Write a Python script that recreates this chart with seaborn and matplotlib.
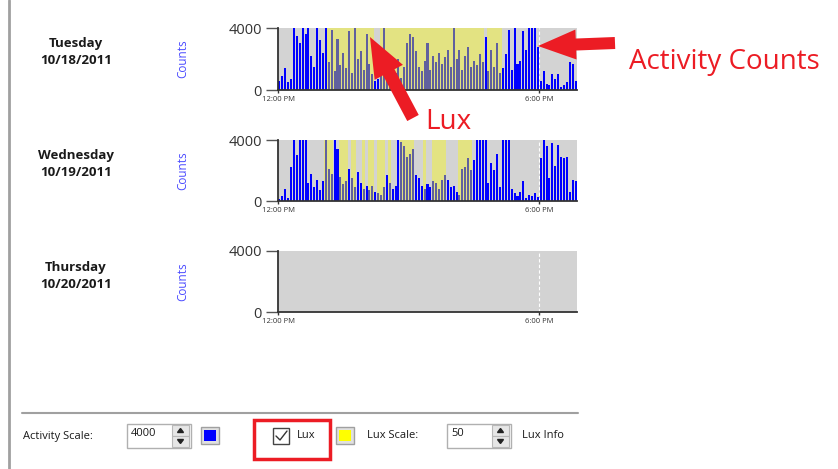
import numpy as np
import pandas as pd
import seaborn as sns
import matplotlib.pyplot as plt
from matplotlib.patches import Rectangle, FancyArrow, Polygon

sns.set_theme(style='white')
plt.rcParams['font.family'] = ['Open Sans', 'DejaVu Sans']

# Activity / lux scales as set in the controls
ACTIVITY_SCALE = 4000
LUX_SCALE = 50

# 4-minute bins starting at 12:00 PM (minutes after noon)
BIN_MIN = 4
bin_start = np.arange(0, 412, BIN_MIN)
time_ticks = [0, 360]
time_labels = ['12:00 PM', '6:00 PM']

day_names = ['Tuesday', 'Wednesday', 'Thursday']
day_dates = ['10/18/2011', '10/19/2011', '10/20/2011']

tue_counts = [600, 900, 1400, 500, 700,
              4000, 3500, 3000, 4000, 3600,
              4000, 2200, 1500, 4000, 3200,
              2400, 4000, 1800, 3900, 1200,
              3300, 1600, 2400, 1400, 3800,
              1100, 4000, 2000, 2500, 1300,
              3600, 1700, 1000, 600, 700,
              1200, 4000, 1400, 900, 1700,
              1100, 2000, 800, 1500, 3000,
              3600, 3400, 2500, 1500, 1200,
              1900, 3000, 1300, 2200, 1800,
              2400, 1700, 2100, 2600, 1500,
              4000, 2000, 2600, 1300, 2200,
              2800, 1500, 1900, 1600, 2300,
              1800, 3400, 1200, 2600, 1500,
              3000, 1100, 1400, 2300, 3900,
              1300, 4000, 1700, 1900, 3800,
              2600, 4000, 4000, 4000, 2800,
              600, 1200, 400, 300, 1000,
              700, 1000, 200, 300, 500,
              1800, 1700, 600]
tue_lux = ([0] * 17 + [50] * 16 + [0] * 2 + [50] * 36 + [0] + [50] * 5 + [0] * 26)

wed_counts = [150, 300, 800, 200, 2200,
              4000, 3000, 4000, 4000, 4000,
              1200, 1800, 900, 1400, 700,
              1300, 4000, 2100, 1800, 4000,
              3400, 1600, 1100, 1300, 2100,
              1500, 900, 1900, 1200, 800,
              1000, 700, 1000, 600, 500,
              400, 900, 1700, 1200, 800,
              1000, 4000, 3900, 3600, 2900,
              3100, 3400, 1700, 1500, 1000,
              800, 1100, 900, 1300, 1200,
              800, 1400, 1700, 1400, 900,
              1000, 600, 400, 2100, 2200,
              2800, 2000, 2700, 4000, 4000,
              4000, 4000, 1200, 2500, 2000,
              3100, 900, 4000, 4000, 4000,
              800, 500, 300, 600, 1300,
              200, 400, 300, 500, 250,
              2800, 4000, 3600, 1500, 3800,
              2300, 3700, 2900, 2800, 2900,
              600, 1400, 1300]
wed_lux = [0, 0, 0, 0, 0, 0, 0, 0, 0, 0,
           0, 0, 0, 0, 0, 0, 50, 50, 50, 0,
           0, 50, 50, 50, 0, 50, 50, 0, 0, 50,
           0, 50, 50, 0, 50, 50, 50, 0, 50, 0,
           0, 0, 50, 50, 50, 50, 50, 0, 0, 0,
           50, 0, 0, 50, 50, 50, 50, 50, 0, 0,
           0, 0, 50, 50, 50, 50, 50, 0, 0, 0,
           0, 0, 0, 0, 0, 0, 0, 0, 0, 0,
           0, 0, 0, 0, 0, 0, 0, 0, 0, 0,
           0, 0, 0, 0, 0, 0, 0, 0, 0, 0,
           0, 0, 0]

thu_counts = []
thu_lux = []

all_counts = [tue_counts, wed_counts, thu_counts]
all_lux = [tue_lux, wed_lux, thu_lux]

fig = plt.figure(figsize=(8.38, 4.69), dpi=100)
W, H = 838, 469
panel_tops = [28, 140, 251]
panel_h = [62, 61, 61]
x_end = bin_start[-1] + BIN_MIN

for i in range(3):
    ax = fig.add_axes([278 / W, 1 - (panel_tops[i] + panel_h[i]) / H, 299 / W, panel_h[i] / H])
    ax.set_facecolor('#D3D3D3')
    ax.axvline(360, color='white', ls=(0, (3, 2)), lw=0.8, zorder=0.5)
    if all_counts[i]:
        df = pd.DataFrame({'minute': bin_start + BIN_MIN / 2,
                           'counts': all_counts[i],
                           'lux': all_lux[i]})
        df['lux_scaled'] = df['lux'] * ACTIVITY_SCALE / LUX_SCALE
        sns.histplot(data=df, x='minute', weights='counts', binwidth=BIN_MIN,
                     binrange=(0, x_end), shrink=0.7,
                     color='#0000FF', alpha=1, linewidth=0, ax=ax)
        sns.histplot(data=df, x='minute', weights='lux_scaled', binwidth=BIN_MIN,
                     binrange=(0, x_end),
                     color='#FFFF00', alpha=0.38, linewidth=0, ax=ax)
    ax.set_xlim(0, x_end)
    ax.set_ylim(0, ACTIVITY_SCALE)
    ax.set_yticks([0, ACTIVITY_SCALE])
    ax.set_yticklabels(['0', str(ACTIVITY_SCALE)], fontsize=10.5, color='#333333')
    ax.set_xticks(time_ticks)
    ax.set_xticklabels(time_labels, fontsize=5.5, color='#333333')
    ax.tick_params(axis='y', left=True, length=8.6, width=1, pad=3, color='#555555')
    ax.tick_params(axis='x', bottom=True, length=2.5, width=1, pad=2, color='#333333')
    for s in ['top', 'right']:
        ax.spines[s].set_visible(False)
    for s in ['left', 'bottom']:
        ax.spines[s].set_color('#333333')
        ax.spines[s].set_linewidth(1.3)
    ax.set_xlabel('')
    ax.set_ylabel('Counts', color='#4A4AFF', fontsize=8.5)
    ax.yaxis.set_label_coords(-0.298, 0.5)

# overlay in pixel coordinates for the surrounding UI
ov = fig.add_axes([0, 0, 1, 1], zorder=10)
ov.set_xlim(0, W)
ov.set_ylim(H, 0)
ov.axis('off')

for i in range(3):
    y0 = panel_tops[i] + 16
    ov.text(76, y0, day_names[i], ha='center', va='center', fontsize=9.5,
            fontweight='bold', color='#1a1a1a')
    ov.text(76, y0 + 17, day_dates[i], ha='center', va='center', fontsize=9.5,
            fontweight='bold', color='#1a1a1a')

ov.plot([9, 9], [0, H], color='#A0A0A0', lw=2)
ov.plot([22, 578], [413, 413], color='#A0A0A0', lw=1.5)

ui = dict(va='center', fontsize=8, color='#1a1a1a')
ov.text(23, 436, 'Activity Scale:', **ui)


def spinbox(x0, x1, val):
    ov.add_patch(Rectangle((x0, 424), x1 - x0, 24, facecolor='white', edgecolor='#B0B0B0', lw=1))
    ov.text(x0 + 4, 434, val, **ui)
    bx = x1 - 19
    for yy in (425, 436):
        ov.add_patch(Rectangle((bx, yy), 17, 11, facecolor='#E6E6E6', edgecolor='#B8B8B8', lw=0.8))
    cx = bx + 8.5
    ov.add_patch(Polygon([(cx - 3, 432.5), (cx + 3, 432.5), (cx, 428.5)], color='#222222'))
    ov.add_patch(Polygon([(cx - 3, 439.5), (cx + 3, 439.5), (cx, 443.5)], color='#222222'))


def swatch(x0, c):
    ov.add_patch(Rectangle((x0, 427), 18, 17, facecolor='#E0E0E0', edgecolor='#A0A0A0', lw=1))
    ov.add_patch(Rectangle((x0 + 3, 430), 12, 11, facecolor=c, edgecolor='none'))


spinbox(127, 191, str(ACTIVITY_SCALE))
swatch(201, '#0000FF')
ov.add_patch(Rectangle((273, 428), 16, 16, facecolor='white', edgecolor='#444444', lw=1))
ov.plot([276, 280, 287], [436, 440, 431], color='#333333', lw=1)
ov.text(297, 436, 'Lux', **ui)
ov.add_patch(Rectangle((254, 420), 76, 39, facecolor='none', edgecolor='#EC1C24', lw=2.5))
swatch(336, '#FFFF00')
ov.text(367, 436, 'Lux Scale:', **ui)
spinbox(447, 511, str(LUX_SCALE))
ov.text(522, 436, 'Lux Info', **ui)

# red callouts
red = '#EC1C24'
ov.add_patch(FancyArrow(615, 43, 538 - 615, 46 - 43, width=12, head_width=30,
                        head_length=38, length_includes_head=True, color=red, lw=0))
ov.add_patch(FancyArrow(413, 118, 370 - 413, 37 - 118, width=13, head_width=32,
                        head_length=40, length_includes_head=True, color=red, lw=0))
ov.text(629, 62, 'Activity Counts', color=red, fontsize=20, va='center')
ov.text(425, 122, 'Lux', color=red, fontsize=20, va='center')

fig.savefig('out.png', dpi=100, facecolor='white')
